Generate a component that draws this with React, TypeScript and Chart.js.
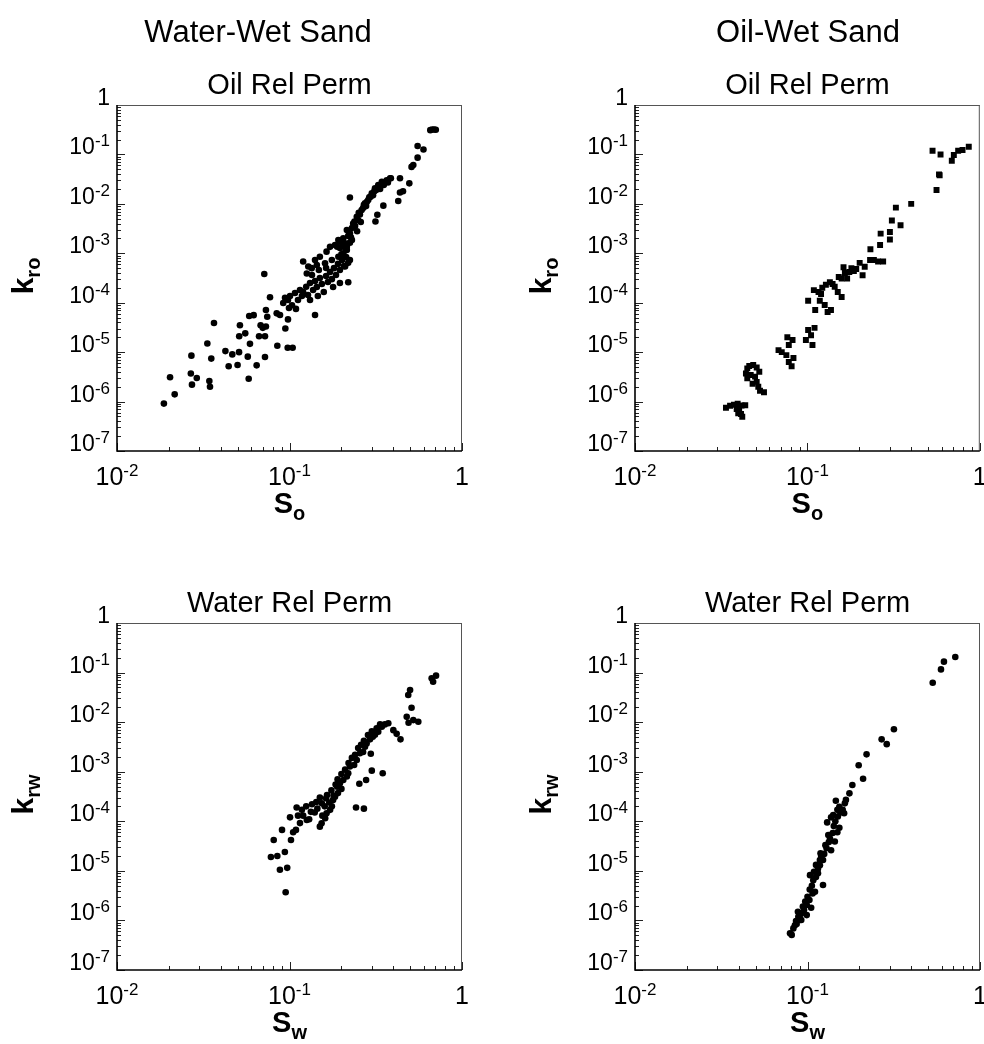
import React, { useEffect, useRef } from "react";
import { Chart, registerables } from "chart.js";

Chart.register(...registerables);

// ---------------- DATA ----------------
// Water-wet sand, oil relative permeability (So, kro)
const wwSo = [
  0.0187, 0.0203, 0.0216, 0.027, 0.0268, 0.0272, 0.029, 0.0334, 0.0343, 0.0346, 0.0352, 0.0365,
  0.0425, 0.0444, 0.0466, 0.05, 0.051, 0.0511, 0.0516, 0.0554, 0.0573, 0.058, 0.0584, 0.059,
  0.062, 0.0645, 0.068, 0.07, 0.0714, 0.073, 0.073, 0.0743, 0.0666, 0.0721, 0.0721, 0.0771,
  0.0843, 0.0881, 0.085, 0.0946, 0.0976, 0.1043, 0.098, 0.092, 0.0942, 0.098, 0.1007, 0.1034,
  0.1076, 0.112, 0.115, 0.118, 0.0993, 0.109, 0.12, 0.125, 0.128, 0.1315, 0.137, 0.1406,
  0.144, 0.15, 0.154, 0.158, 0.163, 0.167, 0.1718, 0.176, 0.181, 0.186, 0.191, 0.196,
  0.202, 0.207, 0.213, 0.219, 0.1406, 0.219, 0.1315, 0.146, 0.163, 0.179, 0.196, 0.148,
  0.135, 0.12, 0.1285, 0.1406, 0.15, 0.164, 0.1718, 0.1836, 0.192, 0.205, 0.215, 0.224,
  0.234, 0.2455, 0.262, 0.274, 0.286, 0.3, 0.313, 0.327, 0.343, 0.366, 0.383, 0.196,
  0.21, 0.219, 0.23, 0.24, 0.25, 0.256, 0.267, 0.278, 0.23, 0.2465, 0.259, 0.126,
  0.1345, 0.144, 0.1607, 0.176, 0.192, 0.205, 0.215, 0.224, 0.21, 0.189, 0.196, 0.205,
  0.215, 0.224, 0.655, 0.672, 0.69, 0.705, 0.553, 0.598, 0.553, 0.522, 0.51, 0.387,
  0.437, 0.495, 0.455, 0.437, 0.427, 0.35, 0.323, 0.315, 0.224, 0.335, 0.352, 0.372,
  0.29, 0.31, 0.238, 0.252, 0.27, 0.281, 0.295, 0.305, 0.318, 0.2, 0.212, 0.227,
];
const wwKro = [
  9.1e-7, 3.1e-6, 1.4e-6, 8.5e-6, 3.7e-6, 2.2e-6, 3.0e-6, 1.5e-5, 2.6e-6, 2.0e-6, 7.4e-6, 3.9e-5,
  1.05e-5, 5.2e-6, 9.0e-6, 5.5e-6, 1.0e-5, 2.1e-5, 3.5e-5, 2.4e-5, 8.1e-6, 2.9e-6, 5.4e-5, 1.47e-5,
  5.6e-5, 5.4e-6, 3.5e-5, 3.1e-5, 3.8e-4, 7.1e-5, 3.3e-5, 5.2e-5, 2.1e-5, 2.1e-5, 8.0e-6, 1.29e-4,
  6.1e-5, 5.65e-5, 1.35e-5, 3.0e-5, 1.23e-5, 1.23e-5, 4.6e-5, 9.9e-5, 1.26e-4, 1.135e-4, 1.37e-4, 8.9e-5,
  1.57e-4, 1.135e-4, 1.81e-4, 1.37e-4, 7.8e-5, 7.5e-5, 1.65e-4, 2.1e-4, 1.43e-4, 2.5e-4, 1.81e-4, 2.75e-4,
  2.08e-4, 3.16e-4, 2.39e-4, 1.65e-4, 3.47e-4, 2.62e-4, 4.18e-4, 3.0e-4, 5.0e-4, 3.64e-4, 6.1e-4, 4.59e-4,
  7.3e-4, 5.5e-4, 8.4e-4, 6.4e-4, 5.65e-5, 2.6e-4, 1.135e-4, 1.37e-4, 5.04e-4, 2.08e-4, 2.5e-4, 4.6e-4,
  3.64e-4, 6.8e-4, 5.4e-4, 7.3e-4, 8.5e-4, 1.08e-3, 1.35e-3, 1.47e-3, 1.86e-3, 2.0e-3, 2.96e-3, 2.55e-3,
  4.0e-3, 5.5e-3, 7.5e-3, 1.03e-2, 1.2e-2, 1.64e-2, 2.07e-2, 2.4e-2, 2.8e-2, 3.0e-2, 3.3e-2, 1.28e-3,
  1.6e-3, 2.25e-3, 3.25e-3, 3.57e-3, 4.7e-3, 6.1e-3, 8.2e-3, 9.0e-3, 1.86e-3, 2.8e-3, 4.3e-3, 3.9e-4,
  5.0e-4, 5.8e-4, 6.3e-4, 7.3e-4, 8.5e-4, 1.0e-3, 1.17e-3, 7.3e-4, 5.4e-4, 1.36e-3, 1.72e-3, 1.48e-3,
  1.36e-3, 1.64e-3, 0.31, 0.32, 0.32, 0.315, 0.148, 0.126, 0.086, 0.061, 0.056, 0.033,
  0.033, 0.026, 0.018, 0.017, 0.0114, 0.0092, 0.006, 0.0044, 0.0134, 0.02, 0.024, 0.027,
  0.0135, 0.018, 4.4e-3, 6.6e-3, 9.6e-3, 1.1e-2, 1.4e-2, 1.5e-2, 1.9e-2, 9.5e-4, 1.25e-3, 2.1e-3,
];

// Oil-wet sand, oil relative permeability (So, kro)
const owSo = [
  0.0337, 0.0356, 0.0375, 0.0394, 0.0415, 0.0436, 0.0389, 0.0402, 0.0412, 0.0419, 0.0397,
  0.0448, 0.046, 0.0485, 0.0508, 0.0526, 0.044, 0.0448, 0.0469, 0.0497, 0.0508, 0.0519, 0.0531, 0.0481, 0.056,
  0.068, 0.071, 0.0755, 0.078, 0.0765, 0.082, 0.083, 0.078, 0.081, 0.101, 0.105, 0.11, 0.098, 0.107,
  0.109, 0.116, 0.122, 0.128, 0.135, 0.144, 0.15, 0.158, 0.118, 0.126, 0.131, 0.137, 0.111, 0.101,
  0.532, 0.592, 0.707, 0.688, 0.749, 0.794, 0.863, 0.58, 0.585, 0.561, 0.4, 0.326, 0.309, 0.347,
  0.266, 0.301, 0.301, 0.264, 0.232, 0.231, 0.243, 0.275, 0.257, 0.201, 0.215, 0.18, 0.192, 0.162,
  0.209, 0.158, 0.17, 0.14, 0.152, 0.165, 0.175, 0.186, 0.12,
];
const owKro = [
  7.5e-7, 8.2e-7, 8.6e-7, 9.0e-7, 8.3e-7, 8.4e-7, 7.1e-7, 6.55e-7, 5.6e-7, 4.95e-7, 5.8e-7,
  4.7e-6, 5.24e-6, 5.5e-6, 4.9e-6, 4.0e-6, 3.7e-6, 2.95e-6, 3.45e-6, 3.2e-6, 2.5e-6, 2.0e-6, 1.65e-6, 2.3e-6, 1.55e-6,
  1.1e-5, 1.0e-5, 8.7e-6, 1.4e-5, 2.0e-5, 1.76e-5, 7.6e-6, 6.3e-6, 5.2e-6, 2.8e-5, 2.2e-5, 3.1e-5, 1.76e-5, 1.4e-5,
  1.8e-4, 1.65e-4, 2.0e-4, 2.3e-4, 2.6e-4, 2.1e-4, 1.65e-4, 1.3e-4, 1.1e-4, 9e-5, 6.5e-5, 7.1e-5, 7.1e-5, 1.1e-4,
  0.119, 0.1, 0.097, 0.0745, 0.119, 0.123, 0.143, 0.0395, 0.038, 0.0191, 0.01, 0.0084, 0.0046, 0.0037,
  0.0025, 0.0027, 0.0019, 0.00147, 0.00121, 7.3e-4, 7.3e-4, 6.8e-4, 6.8e-4, 6.4e-4, 5.35e-4, 4.97e-4, 4.8e-4, 5.2e-4,
  3.6e-4, 3.1e-4, 3.1e-4, 2.4e-4, 3.3e-4, 4.0e-4, 4.2e-4, 4.4e-4, 1.5e-4,
];

// Water-wet sand, water relative permeability (Sw, krw)
const wwSw = [
  0.707, 0.667, 0.68, 0.5, 0.488, 0.51, 0.478, 0.522, 0.558, 0.49, 0.374, 0.357, 0.4, 0.418, 0.44,
  0.343, 0.327, 0.313, 0.304, 0.293, 0.28, 0.274, 0.267, 0.256, 0.2455, 0.237, 0.224, 0.219, 0.215,
  0.205, 0.196, 0.189, 0.191, 0.1836, 0.179, 0.176, 0.172, 0.164, 0.161, 0.1535, 0.15,
  0.296, 0.347, 0.3, 0.278, 0.254, 0.243, 0.27, 0.163, 0.154,
  0.0905, 0.081, 0.078, 0.085, 0.094, 0.097, 0.088, 0.102, 0.109, 0.115, 0.126, 0.118, 0.133, 0.143,
  0.1007, 0.11, 0.095,
  0.12, 0.125, 0.13, 0.135, 0.14, 0.145, 0.15, 0.155, 0.16, 0.165, 0.17, 0.175, 0.18, 0.185, 0.19,
  0.2, 0.2, 0.21, 0.22, 0.23, 0.24, 0.25, 0.26, 0.27, 0.285, 0.3, 0.32, 0.335, 0.105, 0.112,
];
const wwKrw = [
  0.0866, 0.0767, 0.0655, 0.0446, 0.0353, 0.0195, 0.0128, 0.011, 0.0102, 0.0097, 0.0095, 0.009, 0.0069, 0.0058, 0.0045,
  0.0081, 0.0064, 0.0056, 0.0051, 0.0045, 0.0037, 0.0032, 0.0025, 0.00235, 0.00172, 0.00137, 0.00127, 9.3e-4, 8.0e-4,
  6.8e-4, 5.85e-4, 5.0e-4, 3.7e-4, 3.14e-4, 2.7e-4, 2.0e-4, 1.7e-4, 1.45e-4, 1.15e-4, 9.1e-5, 7.8e-5,
  0.0023, 9.3e-4, 0.00105, 6.8e-4, 5.7e-4, 1.9e-4, 1.8e-4, 2.9e-4, 2.3e-4,
  6.7e-5, 4.2e-5, 1.9e-5, 2.0e-5, 2.4e-5, 1.15e-5, 1.05e-5, 4.2e-5, 6.7e-5, 9.2e-5, 1.06e-4, 1.7e-4, 1.55e-4, 2.45e-4,
  1.2e-4, 1.9e-4, 3.7e-6,
  1.3e-4, 2.0e-4, 1.1e-4, 2.2e-4, 1.5e-4, 1.8e-4, 3.0e-4, 1.3e-4, 2.0e-4, 3.4e-4, 2.4e-4, 4.2e-4, 3.3e-4, 5.5e-4, 7.0e-4,
  4.5e-4, 9.0e-4, 1.1e-3, 1.5e-3, 1.9e-3, 2.2e-3, 3.0e-3, 3.5e-3, 4.2e-3, 5.5e-3, 6.5e-3, 7.5e-3, 9.0e-3, 6.0e-5, 1.3e-4,
];

// Oil-wet sand, water relative permeability (Sw, krw)
const owSw = [
  0.719, 0.618, 0.594, 0.532, 0.317, 0.269, 0.288, 0.22, 0.198, 0.21, 0.182, 0.175,
  0.167, 0.1646, 0.16, 0.163, 0.153, 0.146, 0.149, 0.141, 0.137, 0.13,
  0.132, 0.149, 0.153, 0.144, 0.137, 0.129, 0.119, 0.123, 0.118, 0.112, 0.115, 0.109, 0.1034,
  0.123, 0.1105, 0.107, 0.1026, 0.099, 0.105, 0.0955, 0.092, 0.099, 0.0885, 0.0905, 0.0858,
  0.0865, 0.0828, 0.092, 0.081, 0.0792,
  0.088, 0.094, 0.097, 0.1, 0.103, 0.106, 0.108, 0.112, 0.115, 0.118, 0.12, 0.125, 0.127,
  0.133, 0.135, 0.14, 0.142, 0.145, 0.15, 0.155, 0.0845, 0.09,
];
const owKrw = [
  0.206, 0.166, 0.116, 0.0625, 0.0072, 0.0045, 0.0036, 0.00224, 0.00135, 7.2e-4, 5.4e-4, 3.66e-4,
  2.7e-4, 2.3e-4, 1.7e-4, 1.45e-4, 1.97e-4, 2.6e-4, 1.7e-4, 1.34e-4, 1.2e-4, 9.5e-5,
  5.3e-5, 6.0e-5, 7.4e-5, 3.9e-5, 2.6e-5, 2.85e-5, 2.26e-5, 1.66e-5, 1.66e-5, 1.32e-5, 8.9e-6, 9.6e-6, 8.2e-6,
  5.2e-6, 3.8e-6, 3.5e-6, 2.58e-6, 2.05e-6, 1.8e-6, 1.62e-6, 1.38e-6, 1.28e-6, 1.19e-6, 1.02e-6, 9.7e-7,
  8.5e-7, 6.9e-7, 1.02e-6, 5.1e-7, 5.5e-7,
  1.5e-6, 1.9e-6, 2.4e-6, 3.0e-6, 4.2e-6, 5.0e-6, 6.5e-6, 7.5e-6, 1.1e-5, 1.3e-5, 2.0e-5, 2.2e-5, 3.3e-5,
  3.8e-5, 4.5e-5, 5.8e-5, 8.0e-5, 1.0e-4, 1.25e-4, 1.5e-4, 8.0e-7, 1.2e-6,
];

// Tick definitions (powers of ten)
const xTickExponents = [-2, -1, 0];
const yTickExponents = [-7, -6, -5, -4, -3, -2, -1, 0];
const minorMantissas = [2, 3, 4, 5, 6, 7, 8, 9];

// ---------------- LAYOUT / STYLE ----------------
const FONT = '"Liberation Sans", Arial, Helvetica, sans-serif';
const CW = 492;
const CH = 520;

type Area = { left: number; top: number; right: number; bottom: number };
type PanelSpec = {
  left: number;
  top: number;
  area: Area;
  mainTitle?: { text: string; x: number; y: number };
  subtitle: string;
  xSub: string;
  ySub: string;
  xs: number[];
  ys: number[];
  pointStyle: "circle" | "rect";
  radius: number;
};

function drawPower(
  ctx: CanvasRenderingContext2D,
  exp: number,
  x: number,
  y: number,
  align: "right" | "center",
  baseSize: number,
  supSize: number,
  raise: number
) {
  ctx.textAlign = "left";
  ctx.textBaseline = "alphabetic";
  ctx.fillStyle = "#000";
  if (exp === 0) {
    ctx.font = `${baseSize}px ${FONT}`;
    const w = ctx.measureText("1").width;
    const x0 = align === "right" ? x - w : x - w / 2;
    ctx.fillText("1", x0, y);
    return;
  }
  ctx.font = `${baseSize}px ${FONT}`;
  const wb = ctx.measureText("10").width;
  const sup = String(exp);
  ctx.font = `${supSize}px ${FONT}`;
  const ws = ctx.measureText(sup).width;
  const total = wb + ws;
  const x0 = align === "right" ? x - total : x - total / 2;
  ctx.font = `${baseSize}px ${FONT}`;
  ctx.fillText("10", x0, y);
  ctx.font = `${supSize}px ${FONT}`;
  ctx.fillText(sup, x0 + wb, y - raise);
}

function makeDecor(spec: PanelSpec) {
  return {
    id: "decor",
    afterDraw(chart: any) {
      const ctx: CanvasRenderingContext2D = chart.ctx;
      const a = chart.chartArea;
      const xs = chart.scales.x;
      const ys = chart.scales.y;
      ctx.save();

      // ticks (inward)
      ctx.strokeStyle = "#222";
      ctx.lineWidth = 1;
      ctx.beginPath();
      for (const e of yTickExponents) {
        const py = Math.round(ys.getPixelForValue(Math.pow(10, e))) + 0.5;
        ctx.moveTo(a.left, py);
        ctx.lineTo(a.left + 8, py);
        if (e < 0) {
          for (const m of minorMantissas) {
            const pm = Math.round(ys.getPixelForValue(m * Math.pow(10, e))) + 0.5;
            ctx.moveTo(a.left, pm);
            ctx.lineTo(a.left + 4, pm);
          }
        }
      }
      for (const e of xTickExponents) {
        const px = Math.round(xs.getPixelForValue(Math.pow(10, e))) + 0.5;
        ctx.moveTo(px, a.bottom);
        ctx.lineTo(px, a.bottom - 8);
        if (e < 0) {
          for (const m of minorMantissas) {
            const pm = Math.round(xs.getPixelForValue(m * Math.pow(10, e))) + 0.5;
            ctx.moveTo(pm, a.bottom);
            ctx.lineTo(pm, a.bottom - 4);
          }
        }
      }
      ctx.stroke();

      // frame
      ctx.strokeStyle = "#555";
      ctx.lineWidth = 1;
      ctx.beginPath();
      ctx.moveTo(a.left, a.top + 0.5);
      ctx.lineTo(a.right, a.top + 0.5);
      ctx.moveTo(a.right - 0.5, a.top);
      ctx.lineTo(a.right - 0.5, a.bottom);
      ctx.stroke();
      ctx.strokeStyle = "#000";
      ctx.lineWidth = 1.6;
      ctx.beginPath();
      ctx.moveTo(a.left, a.top);
      ctx.lineTo(a.left, a.bottom);
      ctx.lineTo(a.right, a.bottom);
      ctx.stroke();

      // tick labels
      for (const e of yTickExponents) {
        const py = ys.getPixelForValue(Math.pow(10, e));
        drawPower(ctx, e, a.left - 7, py, "right", 23, 17, 8);
      }
      for (const e of xTickExponents) {
        const px = xs.getPixelForValue(Math.pow(10, e));
        drawPower(ctx, e, px, a.bottom + 34, "center", 25, 17, 9);
      }

      // subtitle
      const cx = (a.left + a.right) / 2;
      ctx.fillStyle = "#000";
      ctx.font = `29px ${FONT}`;
      ctx.textAlign = "center";
      ctx.textBaseline = "alphabetic";
      ctx.fillText(spec.subtitle, cx, a.top - 11);

      // main title
      if (spec.mainTitle) {
        ctx.font = `31px ${FONT}`;
        ctx.textAlign = "center";
        ctx.fillText(spec.mainTitle.text, spec.mainTitle.x, spec.mainTitle.y);
      }

      // x axis title: S with subscript
      ctx.textAlign = "left";
      ctx.font = `bold 29px ${FONT}`;
      const wS = ctx.measureText("S").width;
      ctx.font = `bold 20px ${FONT}`;
      const wsub = ctx.measureText(spec.xSub).width;
      const sx = cx - (wS + wsub) / 2;
      const sy = a.bottom + 62;
      ctx.font = `bold 29px ${FONT}`;
      ctx.fillText("S", sx, sy);
      ctx.font = `bold 20px ${FONT}`;
      ctx.fillText(spec.xSub, sx + wS, sy + 7);

      // y axis title: k with subscript, rotated
      const cy = (a.top + a.bottom) / 2 - 2;
      ctx.save();
      ctx.translate(a.left - 84, cy);
      ctx.rotate(-Math.PI / 2);
      ctx.font = `bold 30px ${FONT}`;
      const wk = ctx.measureText("k").width;
      ctx.font = `bold 20px ${FONT}`;
      const wks = ctx.measureText(spec.ySub).width;
      const kx = -(wk + wks) / 2;
      ctx.font = `bold 30px ${FONT}`;
      ctx.fillText("k", kx, 0);
      ctx.font = `bold 20px ${FONT}`;
      ctx.fillText(spec.ySub, kx + wk, 7);
      ctx.restore();

      ctx.restore();
    },
  };
}

function Panel({ spec }: { spec: PanelSpec }) {
  const ref = useRef<HTMLCanvasElement>(null);
  useEffect(() => {
    const canvas = ref.current;
    if (!canvas) return;
    const a = spec.area;
    const points = spec.xs.map((x, i) => ({ x, y: spec.ys[i] }));
    const chart = new Chart(canvas, {
      type: "scatter",
      data: {
        datasets: [
          {
            data: points,
            pointStyle: spec.pointStyle,
            pointRadius: spec.radius,
            pointHoverRadius: spec.radius,
            backgroundColor: "#000",
            borderColor: "#000",
            borderWidth: 0,
          },
        ],
      },
      options: {
        animation: false,
        responsive: false,
        maintainAspectRatio: false,
        devicePixelRatio: 1,
        events: [],
        layout: { padding: { top: a.top, right: CW - a.right, left: 0, bottom: 0 } },
        plugins: { legend: { display: false }, tooltip: { enabled: false }, title: { display: false } },
        scales: {
          x: {
            type: "logarithmic",
            min: 0.01,
            max: 1,
            grid: { display: false },
            border: { display: false },
            ticks: { display: false },
            afterFit: (s: any) => {
              s.height = CH - a.bottom;
            },
          },
          y: {
            type: "logarithmic",
            min: 1e-7,
            max: 1,
            grid: { display: false },
            border: { display: false },
            ticks: { display: false },
            afterFit: (s: any) => {
              s.width = a.left;
            },
          },
        },
      } as any,
      plugins: [makeDecor(spec)],
    });
    return () => chart.destroy();
  }, [spec]);
  return (
    <canvas
      ref={ref}
      width={CW}
      height={CH}
      style={{ position: "absolute", left: spec.left, top: spec.top, width: CW, height: CH }}
    />
  );
}

const panels: PanelSpec[] = [
  {
    left: 0,
    top: 0,
    area: { left: 117, top: 105, right: 462, bottom: 451 },
    mainTitle: { text: "Water-Wet Sand", x: 258, y: 42 },
    subtitle: "Oil Rel Perm",
    xSub: "o",
    ySub: "ro",
    xs: wwSo,
    ys: wwKro,
    pointStyle: "circle",
    radius: 3.3,
  },
  {
    left: 492,
    top: 0,
    area: { left: 143, top: 105, right: 488, bottom: 451 },
    mainTitle: { text: "Oil-Wet Sand", x: 316, y: 42 },
    subtitle: "Oil Rel Perm",
    xSub: "o",
    ySub: "ro",
    xs: owSo,
    ys: owKro,
    pointStyle: "rect",
    radius: 4.2,
  },
  {
    left: 0,
    top: 520,
    area: { left: 117, top: 103, right: 462, bottom: 450 },
    subtitle: "Water Rel Perm",
    xSub: "w",
    ySub: "rw",
    xs: wwSw,
    ys: wwKrw,
    pointStyle: "circle",
    radius: 3.3,
  },
  {
    left: 492,
    top: 520,
    area: { left: 143, top: 103, right: 488, bottom: 450 },
    subtitle: "Water Rel Perm",
    xSub: "w",
    ySub: "rw",
    xs: owSw,
    ys: owKrw,
    pointStyle: "circle",
    radius: 3.3,
  },
];

export default function App() {
  return (
    <div
      style={{
        position: "absolute",
        left: 0,
        top: 0,
        width: 984,
        height: 1044,
        background: "#fff",
        overflow: "hidden",
      }}
    >
      {panels.map((p, i) => (
        <Panel key={i} spec={p} />
      ))}
    </div>
  );
}
